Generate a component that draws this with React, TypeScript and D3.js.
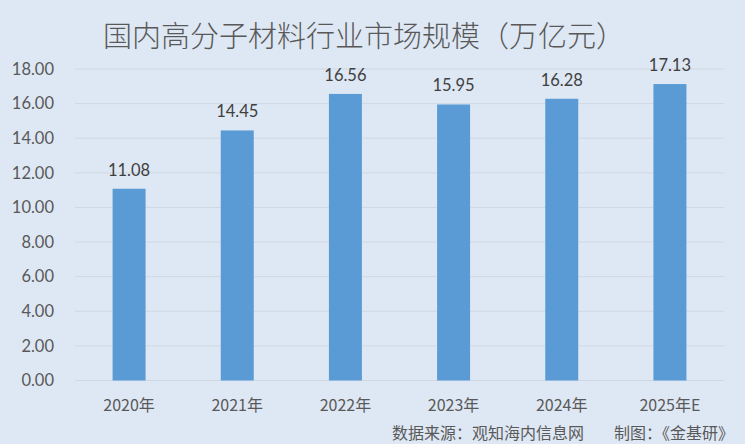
import React from "react";
import * as d3 from "d3";

const categories = ["2020年", "2021年", "2022年", "2023年", "2024年", "2025年E"];
const values = [11.08, 14.45, 16.56, 15.95, 16.28, 17.13];
const yTicks = [0, 2, 4, 6, 8, 10, 12, 14, 16, 18];
const title = "国内高分子材料行业市场规模（万亿元）";
const sourceA = "数据来源：观知海内信息网";
const sourceB = "制图：《金基研》";

const W = 745;
const H = 444;
const left = 75;
const right = 724;
const top = 69;
const bottom = 380.5;

export default function App() {
  const x = d3.scaleBand<string>().domain(categories).range([left, right]).paddingInner(0.695).paddingOuter(0.3475);
  const y = d3.scaleLinear().domain([0, 18]).range([bottom, top]);
  const numFont = "Lato, 'Open Sans', sans-serif";
  const cjkFont = "'Noto Sans CJK SC', sans-serif";
  return (
    <svg width={W} height={H} style={{ position: "absolute", left: 0, top: 0 }}>
      <rect x={0} y={0} width={W} height={H} fill="#dee8f4" />
      <text x={364} y={47} textAnchor="middle" fontFamily={cjkFont} fontSize={29} fontWeight={300} fill="#595959">
        {title}
      </text>
      {yTicks.map((t) => (
        <g key={t}>
          <line x1={left} x2={right} y1={y(t)} y2={y(t)} stroke="#cfd8e2" strokeWidth={1} />
          <text x={54} y={y(t)} dy="0.35em" textAnchor="end" fontFamily={numFont} fontSize={16.5} fill="#595959">
            {t.toFixed(2)}
          </text>
        </g>
      ))}
      {categories.map((c, i) => (
        <g key={c}>
          <rect x={x(c)} y={y(values[i])} width={x.bandwidth()} height={bottom - y(values[i])} fill="#5b9bd5" />
          <text x={(x(c) as number) + x.bandwidth() / 2} y={y(values[i]) - 13} textAnchor="middle" fontFamily={numFont} fontSize={16.5} fill="#404040">
            {values[i].toFixed(2)}
          </text>
          <text x={(x(c) as number) + x.bandwidth() / 2} y={405} dy="0.35em" textAnchor="middle" fontFamily={cjkFont} fontSize={16} fill="#595959">
            {c}
          </text>
        </g>
      ))}
      <text x={392} y={433} dy="0.35em" textAnchor="start" fontFamily={cjkFont} fontSize={16} fill="#595959">
        {sourceA}
      </text>
      <text x={734} y={433} dy="0.35em" textAnchor="end" fontFamily={cjkFont} fontSize={16} fill="#595959">
        {sourceB}
      </text>
    </svg>
  );
}
